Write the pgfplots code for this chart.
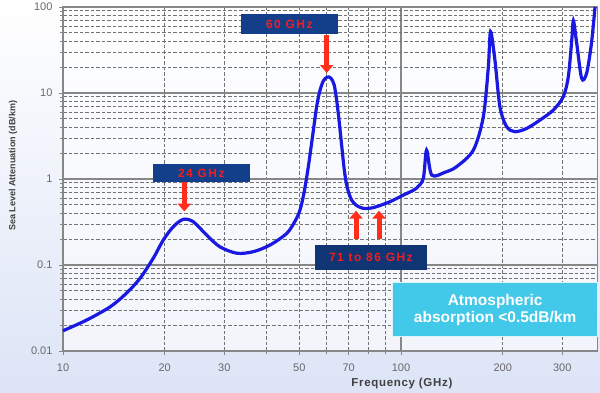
\documentclass[border=0pt]{standalone}
\usepackage{pgfplots}
\pgfplotsset{compat=1.18}
\usepackage{fontspec}
\setmainfont{Liberation Sans}
\usetikzlibrary{arrows.meta}
\definecolor{curveblue}{RGB}{25,25,225}
\definecolor{boxnavy}{RGB}{18,62,138}
\definecolor{labred}{RGB}{240,30,30}
\definecolor{arrred}{RGB}{255,45,25}
\definecolor{cyanbox}{RGB}{66,200,232}
\definecolor{gridgray}{RGB}{115,115,115}
\definecolor{framegray}{RGB}{135,135,135}
\definecolor{ticklab}{RGB}{105,105,105}
\definecolor{bgbot}{RGB}{220,228,246}
\begin{document}
\begin{tikzpicture}[x=1pt,y=1pt]
\shade[top color=white, bottom color=bgbot] (0,0) rectangle (600,393);
\begin{axis}[
  at={(63pt,42pt)}, anchor=south west,
  scale only axis, width=534.5pt, height=344pt,
  xmode=log, ymode=log,
  xmin=10, xmax=381.4, ymin=0.01, ymax=100,
  clip=false,
  axis background/.style={fill=white, fill opacity=0.6},
  axis line style={framegray, line width=1.5pt},
  xtick={10,100}, xticklabels={10,100},
  extra x ticks={20,30,50,70,200,300},
  extra x tick labels={20,30,50,70,200,300},
  extra x tick style={grid=none},
  minor xtick={20,30,40,50,60,70,80,90,200,300},
  ytick={0.01,0.1,1,10,100}, yticklabels={0.01,0.1,1,10,100},
  xmajorgrids, ymajorgrids, xminorgrids, yminorgrids,
  major grid style={framegray, line width=1.2pt},
  minor grid style={gridgray, line width=0.9pt, dash pattern=on 3.5pt off 2pt},
  tick pos=left, tick align=outside, major tick length=4pt, minor tick length=3pt,
  tick style={framegray, line width=0.8pt},
  /pgf/number format/assume math mode=true,
  ticklabel style={font=\fontsize{11}{13}\selectfont, text=ticklab},
  xticklabel style={yshift=-5pt},
  yticklabel style={xshift=-3pt},
]
\addplot[curveblue, line width=3.2pt, smooth, tension=0.5] coordinates {
(10,0.0172) (11.75,0.0229) (13.8,0.0327) (15.4,0.0469) (16.9,0.070) (18.5,0.120)
(19.8,0.195) (21.2,0.279) (22.7,0.34) (24.3,0.318) (26.6,0.223) (29.1,0.163)
(32.7,0.137) (36.6,0.143) (41.0,0.171) (45.9,0.233) (48.5,0.32) (50.2,0.43)
(51.6,0.68) (53.2,1.4) (55,3.6) (56.3,7.0) (57.5,10.5) (58.9,13.8) (60.5,15.3)
(62.0,14.9) (63.4,12.5) (64.5,8.3) (65.5,5.0) (66.8,2.38) (68.0,1.25) (69.3,0.8)
(71.4,0.57) (74,0.49) (77.3,0.456) (81,0.458) (84.7,0.477) (92.8,0.545)
(101.6,0.65) (111,0.78) (116.4,1.02) (119,2.17) (123.3,1.11) (135,1.2)
(146,1.39) (163.7,2.17) (175.2,5.3) (181.3,20.2) (184,51.6) (189.6,24.2)
(196.2,6.9) (205.4,4.05) (217.5,3.55) (235.5,3.88) (257.8,4.85) (282.3,6.34)
(302,9.06) (312.6,15.5) (320,41.3) (323.6,69.3) (331,37.8) (342.3,14.8)
(354,16.9) (366,37.8) (375,100)
};
% 24 GHz
\node[fill=boxnavy, minimum width=97pt, minimum height=18pt, inner sep=0pt,
  text=labred, font=\fontsize{12}{14}\bfseries\addfontfeature{LetterSpace=12}]
  at (rel axis cs:0.2588,0.517) {24 GHz};
\draw[arrred, line width=5pt, -{Triangle[width=13pt,length=8pt]}]
  (rel axis cs:0.2269,0.4904) -- (rel axis cs:0.2269,0.4055);
% 60 GHz
\node[fill=boxnavy, minimum width=97pt, minimum height=20pt, inner sep=0pt,
  text=labred, font=\fontsize{12}{14}\bfseries\addfontfeature{LetterSpace=12}]
  at (rel axis cs:0.4235,0.9506) {60 GHz};
\draw[arrred, line width=5pt, -{Triangle[width=13pt,length=8pt]}]
  (rel axis cs:0.4934,0.9186) -- (rel axis cs:0.4934,0.8081);
% 71 to 86 GHz
\node[fill=boxnavy!85!black, minimum width=112pt, minimum height=25pt, inner sep=0pt,
  text=labred, font=\fontsize{12}{14}\bfseries\addfontfeature{LetterSpace=12}]
  at (rel axis cs:0.5760,0.2718) {71 to 86 GHz};
\draw[arrred, line width=5pt, -{Triangle[width=13pt,length=8pt]}]
  (rel axis cs:0.5482,0.3247) -- (rel axis cs:0.5482,0.4079);
\draw[arrred, line width=5pt, -{Triangle[width=13pt,length=8pt]}]
  (rel axis cs:0.5912,0.3247) -- (rel axis cs:0.5912,0.4079);
% Atmospheric box
\node[fill=cyanbox, draw=white!80!cyanbox, line width=1pt, minimum width=205pt,
  minimum height=54pt, inner sep=0pt, text=white, align=center,
  font=\fontsize{15.5}{16.6}\selectfont\bfseries]
  at (rel axis cs:0.8085,0.1196) {Atmospheric\\absorption <0.5dB/km};
% axis labels
\node[rotate=90, font=\fontsize{9}{10}\selectfont\bfseries, text=black!75]
  at (rel axis cs:-0.0935,0.538) {Sea Level Attenuation (dB/km)};
\node[font=\fontsize{11.5}{13}\selectfont\bfseries\addfontfeature{LetterSpace=6}, text=black!75]
  at (rel axis cs:0.634,-0.095) {Frequency (GHz)};
\end{axis}
\pgfresetboundingbox
\useasboundingbox (0,0) rectangle (600,393);
\end{tikzpicture}
\end{document}
